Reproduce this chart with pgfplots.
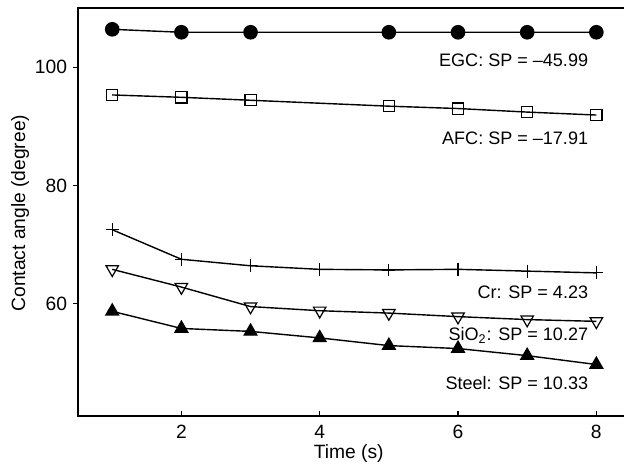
\documentclass[border=0pt]{standalone}
\usepackage{pgfplots}
\pgfplotsset{compat=1.18}
\usepackage{fontspec}
\setmainfont{Liberation Sans}

\begin{document}
\begin{tikzpicture}[font=\fontsize{9.6bp}{11bp}\selectfont]
\begin{axis}[
    name=ax,
    scale only axis,
    width=273bp, height=203.5bp,
    xmin=0.507, xmax=8.42,
    ymin=41, ymax=110,
    xtick={2,4,6,8},
    ytick={60,80,100},
    axis line style={line width=0.75bp},
    x tick style={line width=0.6bp, black},
    y tick style={line width=0.6bp, black},
    xtick pos=bottom, ytick pos=left,
    xtick align=inside, ytick align=outside,
    major tick length=2.5bp,
    /pgf/number format/assume math mode=true,
    xticklabel style={yshift=-1bp},
    yticklabel style={xshift=0.5bp},
    xlabel={Time (s)},
    ylabel={Contact angle (degree)},
    xlabel style={at={(axis cs:4.42,34.6)}, anchor=center},
    ylabel style={at={(axis cs:-0.33,75.3)}, anchor=center},
    every axis plot/.append style={black, line width=0.7bp},
    clip=false,
]
% EGC
\addplot[mark=*, mark size=3.3bp] coordinates {
    (1,106.4) (2,105.9) (3,105.9) (5,105.9) (6,105.9) (7,105.9) (8,105.9)};
% AFC
\addplot[mark=square, mark size=2.8bp, mark options={fill=white, line width=0.6bp}] coordinates {
    (1,95.3) (2,94.9) (3,94.4) (5,93.4) (6,93.0) (7,92.4) (8,91.9)};
% Cr
\addplot[mark=+, mark size=3.2bp, mark options={line width=0.6bp}] coordinates {
    (1,72.5) (2,67.5) (3,66.4) (4,65.8) (5,65.7) (6,65.8) (7,65.5) (8,65.2)};
% SiO2
\addplot[mark=triangle, mark size=3.6bp, mark options={fill=white, rotate=180, line width=0.6bp}] coordinates {
    (1,65.8) (2,62.8) (3,59.5) (4,58.8) (5,58.4) (6,57.8) (7,57.3) (8,57.0)};
% Steel
\addplot[mark=triangle*, mark size=3.6bp] coordinates {
    (1,58.7) (2,55.8) (3,55.3) (4,54.2) (5,52.9) (6,52.4) (7,51.2) (8,49.7)};

\begin{scope}[every node/.style={anchor=east, inner sep=1.5bp, font=\fontsize{9bp}{11bp}\selectfont}]
\node[fill=white] at (axis cs:7.93,101.2) {EGC: SP = –45.99};
\node[fill=white] at (axis cs:7.93,88.0) {AFC: SP = –17.91};
\node[fill=white] at (axis cs:7.93,61.9) {Cr: SP = 4.23};
\node at (axis cs:7.93,54.6) {SiO\textsubscript{2}: SP = 10.27};
\node[fill=white] at (axis cs:7.93,46.5) {Steel: SP = 10.33};
\end{scope}

\coordinate (bl) at (axis cs:-0.623,31.85);
\coordinate (tr) at (axis cs:8.40,111.36);
\end{axis}
\pgfresetboundingbox
\path (bl) rectangle (tr);
\end{tikzpicture}
\end{document}
